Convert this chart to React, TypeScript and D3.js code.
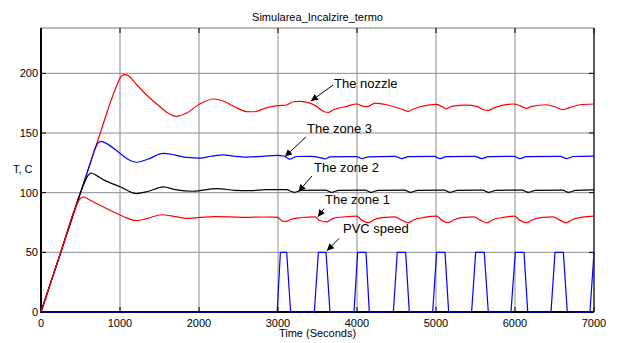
import React from 'react';
import * as d3 from 'd3';

// time (s), temperature (C)
const nozzle: [number, number][] = [
  [0, 0], [250, 50], [500, 100], [750, 150], [880, 176], [960, 190], [1010, 197], [1050, 199],
  [1100, 198.3], [1211, 190.5], [1350, 181], [1506, 172], [1600, 167], [1710, 164], [1850, 167], [2013, 174.5],
  [2181, 178.5], [2300, 177], [2450, 172], [2600, 168], [2700, 167.8], [2850, 171], [2950, 172.5],
  [3025, 173], [3110, 173.5], [3194, 176.2], [3278, 176.5], [3405, 175.1], [3490, 172.3], [3553, 168.9],
  [3637, 167.2], [3700, 169.5], [3869, 172.3], [3996, 174.3], [4059, 172.9], [4100, 172], [4143, 172.3],
  [4228, 175.1], [4376, 173.7], [4481, 171.8], [4586, 169.5], [4650, 168.1], [4713, 170.1], [4882, 173.1],
  [5008, 174], [5072, 172.3], [5135, 170.3], [5199, 172.3], [5389, 173.4], [5515, 172.3], [5599, 169.5],
  [5662, 168.9], [5725, 170.9], [5979, 174.3], [6063, 172.9], [6148, 170.6], [6211, 172.3], [6401, 173.7],
  [6528, 171.4], [6611, 169.5], [6675, 170.9], [6823, 173.7], [7000, 174.3],
];

const zone3: [number, number][] = [
  [0, 0], [250, 50], [500, 100], [620, 124], [680, 136], [720, 141.5], [760, 143], [820, 141.5],
  [1000, 133], [1100, 128], [1211, 125.5], [1350, 128], [1548, 133], [1700, 131.5], [1850, 129.5],
  [2013, 129], [2150, 130.5], [2308, 131.7], [2450, 130.5], [2600, 129.8], [2800, 130.5], [2990, 131.3],
  [3080, 130.5], [3152, 128.1], [3237, 130.3], [3405, 130.5], [3532, 129.4], [3595, 128.3], [3658, 130],
  [3996, 130.2], [4059, 128.6], [4143, 130], [4481, 130.5], [4566, 128.6], [4650, 130.2], [4980, 130.5],
  [5051, 128.6], [5130, 130.2], [5490, 130.5], [5578, 128.6], [5660, 130.2], [5990, 130.5], [6063, 128.6],
  [6140, 130.2], [6570, 130.5], [6654, 128.6], [6740, 130.3], [7000, 130.6],
];

const zone2: [number, number][] = [
  [0, 0], [250, 50], [500, 100], [560, 110], [600, 115], [640, 116.5], [700, 114.5], [800, 110.5],
  [1000, 105], [1211, 99.2], [1350, 101], [1548, 104.8], [1700, 102.5], [1928, 101.2], [2224, 103.4],
  [2450, 102], [2646, 101.7], [2850, 102.5], [3100, 102.6], [3210, 100.3], [3300, 102], [3600, 102.2],
  [3680, 100.3], [3770, 102], [4100, 102.2], [4180, 100.3], [4270, 102], [4600, 102.2], [4680, 100.3],
  [4770, 102], [5100, 102.2], [5180, 100.3], [5270, 102], [5590, 102.2], [5670, 100.3], [5760, 102],
  [6090, 102.2], [6170, 100.3], [6260, 102], [6600, 102.2], [6680, 100.3], [6770, 102], [7000, 102.4],
];

const zone1: [number, number][] = [
  [0, 0], [250, 50], [440, 88], [490, 94.5], [536, 96.5], [600, 94.5], [747, 89.5], [900, 84.5],
  [1042, 80], [1211, 76.5], [1350, 78.5], [1528, 81.5], [1700, 80], [1844, 78.5], [2013, 79.3],
  [2200, 80], [2400, 79.8], [2600, 79.3], [2800, 79.6], [2990, 79.5], [3060, 76], [3120, 76.2],
  [3160, 77.5], [3280, 79], [3468, 79.8], [3532, 76.5], [3616, 75.6], [3700, 78.5], [3850, 79.8],
  [3996, 80.4], [4059, 77.1], [4143, 74.8], [4207, 77.1], [4350, 79.3], [4481, 79.8], [4565, 77],
  [4650, 74.8], [4713, 77.1], [4850, 79.3], [5008, 80.4], [5072, 77], [5156, 74.8], [5220, 77.1],
  [5350, 79.3], [5480, 79.8], [5560, 77], [5645, 74.8], [5710, 77.1], [5850, 79.3], [5990, 80.4],
  [6060, 77], [6150, 74.8], [6215, 77.1], [6350, 79.3], [6480, 79.8], [6570, 77], [6650, 74.8],
  [6715, 77.1], [6850, 79.5], [7000, 80.4],
];

const pvcSpeed: [number, number][] = [
  [0, 0], [2990, 0], [3030, 50], [3110, 50], [3160, 0], [3460, 0], [3511, 50], [3608, 50], [3658, 0],
  [3962, 0], [4008, 50], [4114, 50], [4156, 0], [4460, 0], [4510, 50], [4616, 50], [4662, 0],
  [4958, 0], [5008, 50], [5114, 50], [5160, 0], [5451, 0], [5502, 50], [5611, 50], [5662, 0],
  [5949, 0], [6004, 50], [6114, 50], [6161, 0], [6456, 0], [6506, 50], [6612, 50], [6662, 0],
  [6949, 0], [7000, 50],
];

const xTicks = [0, 1000, 2000, 3000, 4000, 5000, 6000, 7000];
const yTicks = [0, 50, 100, 150, 200];

// label text, text anchor (t, v), arrow tail and head (t, v)
const notes: { text: string; at: [number, number]; from: [number, number]; to: [number, number] }[] = [
  { text: 'The nozzle', at: [3709, 187.7], from: [3696, 190.2], to: [3418, 176.8] },
  { text: 'The zone 3', at: [3367, 150], from: [3354, 146.7], to: [3089, 130.3] },
  { text: 'The zone 2', at: [3456, 117.3], from: [3430, 114], to: [3260, 101] },
  { text: 'The zone 1', at: [3595, 90.5], from: [3582, 86.7], to: [3506, 79.8] },
  { text: 'PVC speed', at: [3823, 66.5], from: [3772, 61.6], to: [3620, 51.4] },
];

const W = 617;
const H = 343;
const font = '"Liberation Sans", Arial, sans-serif';

export default function App() {
  const x = d3.scaleLinear().domain([0, 7000]).range([41, 594]);
  const y = d3.scaleLinear().domain([0, 238]).range([312, 28]);

  const smooth = d3.line<[number, number]>()
    .x(d => x(d[0]))
    .y(d => y(d[1]))
    .curve(d3.curveMonotoneX);
  const straight = d3.line<[number, number]>()
    .x(d => x(d[0]))
    .y(d => y(d[1]));

  const [x0, x1] = x.range();
  const [y0, y1] = y.range();

  return (
    <svg width={W} height={H} style={{ position: 'absolute', left: 0, top: 0, background: '#fff' }}
      fontFamily={font}>
      <defs>
        <marker id="arr" viewBox="0 0 10 10" refX="10" refY="5" markerWidth="7" markerHeight="7"
          orient="auto" markerUnits="userSpaceOnUse">
          <path d="M0,0 L10,5 L0,10 z" fill="#000" />
        </marker>
      </defs>
      <rect x={0} y={0} width={W} height={H} fill="#fff" />

      {/* grid */}
      {xTicks.map(t => (
        <line key={'gx' + t} x1={x(t)} x2={x(t)} y1={y1} y2={y0} stroke="#8c8c8c" strokeWidth={1} />
      ))}
      {yTicks.map(t => (
        <line key={'gy' + t} x1={x0} x2={x1} y1={y(t)} y2={y(t)} stroke="#8c8c8c" strokeWidth={1} />
      ))}

      {/* frame */}
      <line x1={x0} x2={x1} y1={y1} y2={y1} stroke="#777" strokeWidth={1} />
      <line x1={x1} x2={x1} y1={y1} y2={y0} stroke="#222" strokeWidth={1.3} />
      <line x1={x0} x2={x0} y1={y1} y2={y0 + 1} stroke="#000" strokeWidth={2} />
      <line x1={x0} x2={x1} y1={y0} y2={y0} stroke="#000" strokeWidth={2} />
      {xTicks.map(t => (
        <g key={'tx' + t}>
          <line x1={x(t)} x2={x(t)} y1={y0} y2={y0 - 5} stroke="#000" />
          <line x1={x(t)} x2={x(t)} y1={y1} y2={y1 + 5} stroke="#000" />
        </g>
      ))}
      {yTicks.map(t => (
        <g key={'ty' + t}>
          <line x1={x0} x2={x0 + 5} y1={y(t)} y2={y(t)} stroke="#000" />
          <line x1={x1} x2={x1 - 5} y1={y(t)} y2={y(t)} stroke="#000" />
        </g>
      ))}

      {/* tick labels */}
      {xTicks.map(t => (
        <text key={'lx' + t} x={x(t)} y={y0 + 15} fontSize={11} textAnchor="middle" fill="#000">{t}</text>
      ))}
      {yTicks.map(t => (
        <text key={'ly' + t} x={x0 - 3} y={y(t) + 4} fontSize={11} textAnchor="end" fill="#000">{t}</text>
      ))}

      {/* curves */}
      <path d={smooth(nozzle) || ''} fill="none" stroke="#ff0000" strokeWidth={1.2} />
      <path d={smooth(zone3) || ''} fill="none" stroke="#0000ff" strokeWidth={1.2} />
      <path d={smooth(zone2) || ''} fill="none" stroke="#000" strokeWidth={1.2} />
      <path d={smooth(zone1) || ''} fill="none" stroke="#ff0000" strokeWidth={1.2} />
      <path d={straight(pvcSpeed) || ''} fill="none" stroke="#0000ff" strokeWidth={1.2} />

      {/* annotations */}
      {notes.map(n => (
        <g key={n.text}>
          <line x1={x(n.from[0])} y1={y(n.from[1])} x2={x(n.to[0])} y2={y(n.to[1])}
            stroke="#000" strokeWidth={1} markerEnd="url(#arr)" />
          <text x={x(n.at[0])} y={y(n.at[1])} fontSize={13} fill="#000">{n.text}</text>
        </g>
      ))}

      {/* titles */}
      <text x={(x0 + x1) / 2} y={21} fontSize={11} textAnchor="middle" fill="#000">Simularea_Incalzire_termo</text>
      <text x={(x0 + x1) / 2} y={337} fontSize={11} textAnchor="middle" fill="#000">Time (Seconds)</text>
      <text x={13} y={173} fontSize={11} fill="#000">T, C</text>
    </svg>
  );
}
